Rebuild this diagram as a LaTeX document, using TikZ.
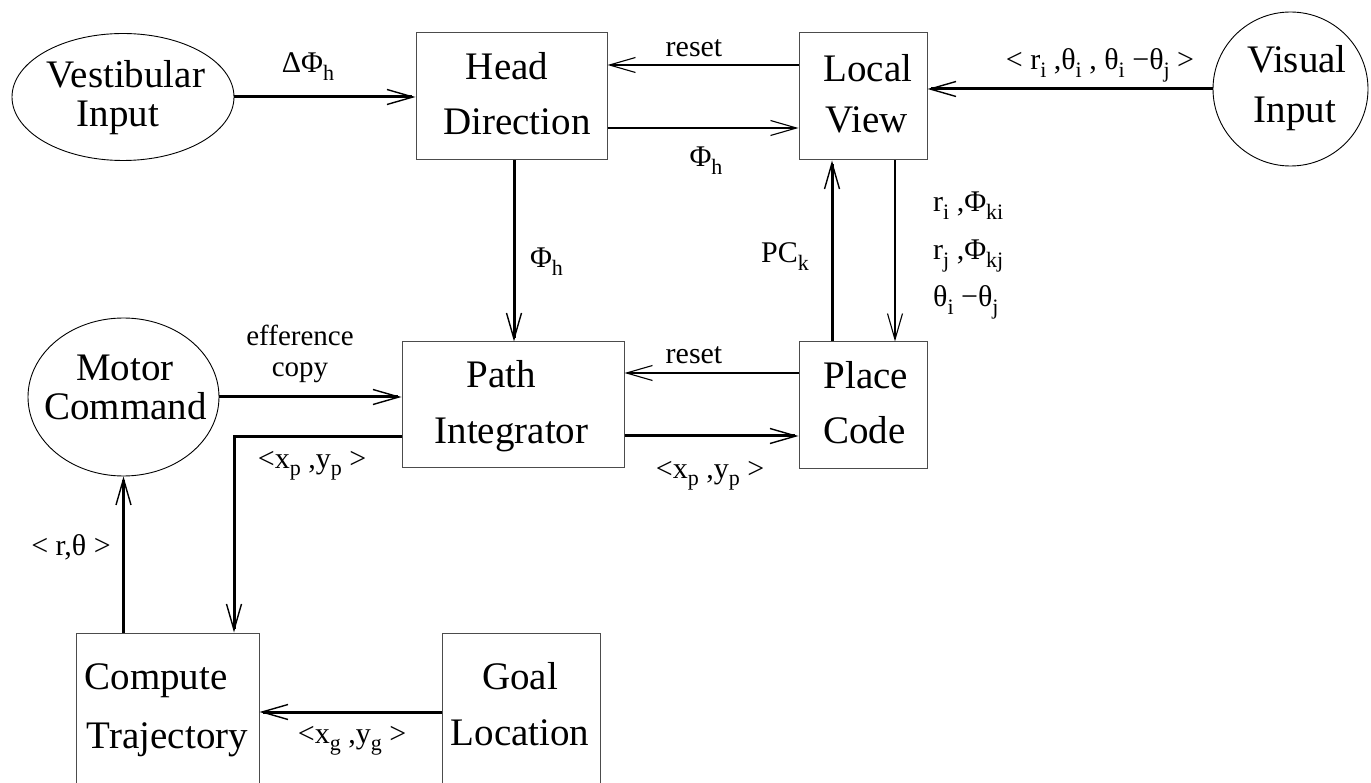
\documentclass[tikz,border=0pt]{standalone}
\usepackage{fontspec}
\setmainfont{Liberation Serif}
\usetikzlibrary{arrows.meta,shapes.geometric,calc}
\newcommand\sbs[1]{\raisebox{-7.5pt}{\fontsize{22}{22}\selectfont #1}}
\begin{document}
\begin{tikzpicture}[x=1pt,y=-1pt,
  box/.style={draw=black!70, line width=1pt, inner sep=0pt},
  oval/.style={ellipse, draw=black, line width=0.9pt, inner sep=0pt},
  big/.style={font=\fontsize{39}{39}\selectfont, anchor=base, inner sep=0pt},
  lbl/.style={font=\fontsize{30}{30}\selectfont, anchor=base, inner sep=0pt},
  heavy/.style={line width=3pt, -{Straight Barb[length=26pt,width=15pt,line width=1.4pt]}},
  light/.style={line width=1.1pt, -{Straight Barb[length=26pt,width=15pt,line width=1.1pt]}}
]
\useasboundingbox (0,0) rectangle (1371,783);
\clip (0,0) rectangle (1371,783);
\fill[white] (0,0) rectangle (1371,783);

% shapes
\node[oval, minimum width=222pt, minimum height=127pt] (vest) at (123,97) {};
\node[box, minimum width=191pt, minimum height=127pt] (hd) at (511.5,96.5) {};
\node[box, minimum width=128pt, minimum height=127pt] (lv) at (863,96.5) {};
\node[oval, minimum width=155pt, minimum height=154pt] (vis) at (1290.5,89) {};
\node[oval, minimum width=191pt, minimum height=158pt] (motor) at (123.5,397) {};
\node[box, minimum width=222pt, minimum height=125pt] (pi) at (513,404.5) {};
\node[box, minimum width=128pt, minimum height=126pt] (pc) at (863,405) {};
\node[box, minimum width=183pt, minimum height=200pt] (ct) at (167.5,733) {};
\node[box, minimum width=158pt, minimum height=200pt] (goal) at (521,733) {};

% node texts
\node[big] (vestA) at (126,88) {Vestibular};
\node[big] (vestB) at (118,127) {Input};
\node[big] (hdA) at (507,80) {Head};
\node[big] (hdB) at (517,135) {Direction};
\node[big] (lvA) at (868,82) {Local};
\node[big] (lvB) at (867,133) {View};
\node[big] (visA) at (1297,73) {Visual};
\node[big] (visB) at (1295,123) {Input};
\node[big] (motorA) at (125,381) {Motor};
\node[big] (motorB) at (125.5,420) {Command};
\node[big] (piA) at (501,388) {Path};
\node[big] (piB) at (511.5,443) {Integrator};
\node[big] (pcA) at (866,389) {Place};
\node[big] (pcB) at (864.5,443) {Code};
\node[big] (ctA) at (156,689) {Compute};
\node[big] (ctB) at (167.5,748) {Trajectory};
\node[big] (goalA) at (520,689) {Goal};
\node[big] (goalB) at (520,745) {Location};

% connectors
\draw[heavy] (vest.east) -- (hd.west |- vest.east);
\draw[light] (lv.west |- 0,65) -- (hd.east |- 0,65);
\draw[light] (hd.east |- 0,128) -- (lv.west |- 0,128);
\draw[heavy] (vis.west) -- (lv.east |- vis.west);
\draw[heavy] (hd.south -| 514,0) -- (pi.north -| 514,0);
\draw[heavy] (pc.north -| 832,0) -- (lv.south -| 832,0);
\draw[light] (lv.south -| 895,0) -- (pc.north -| 895,0);
\draw[heavy] (motor.east) -- (pi.west |- motor.east);
\draw[light] (pc.west |- 0,373) -- (pi.east |- 0,373);
\draw[heavy] (pi.east |- 0,436) -- (pc.west |- 0,436);
\coordinate (bend) at (234,437);
\draw[heavy] (pi.west |- bend) -- (bend) -- (bend |- ct.north);
\draw[heavy] (motor.south |- ct.north) -- (motor.south);
\draw[heavy] (goal.west |- 0,712) -- (ct.east |- 0,712);

% labels
\node[lbl] (l1) at (308,73) {ΔΦ\sbs{h}};
\node[lbl] (l2) at (694,57) {reset};
\node[lbl] (l3) at (706,167) {Φ\sbs{h}};
\node[lbl] (l4) at (1100,70) {< r\sbs{i} ,θ\sbs{i} , θ\sbs{i} −θ\sbs{j} >};
\node[lbl] (l5) at (546.5,268) {Φ\sbs{h}};
\node[lbl] (l6) at (785,263) {PC\sbs{k}};
\node[lbl, anchor=base west] (l7) at (933,212) {r\sbs{i} ,Φ\sbs{ki}};
\node[lbl, anchor=base west] (l8) at (933,260) {r\sbs{j} ,Φ\sbs{kj}};
\node[lbl, anchor=base west] (l9) at (933,307) {θ\sbs{i} −θ\sbs{j}};
\node[font=\fontsize{29}{31}\selectfont, align=center, inner sep=0pt] (l10) at (300,353.5) {efference\\copy};
\node[lbl] (l12) at (694,364) {reset};
\node[lbl] (l13) at (312,468) {<x\sbs{p} ,y\sbs{p} >};
\node[lbl] (l14) at (710,478) {<x\sbs{p} ,y\sbs{p} >};
\node[lbl] (l15) at (71,555) {< r,θ >};
\node[lbl] (l16) at (352,743) {<x\sbs{g} ,y\sbs{g} >};
\end{tikzpicture}
\end{document}
